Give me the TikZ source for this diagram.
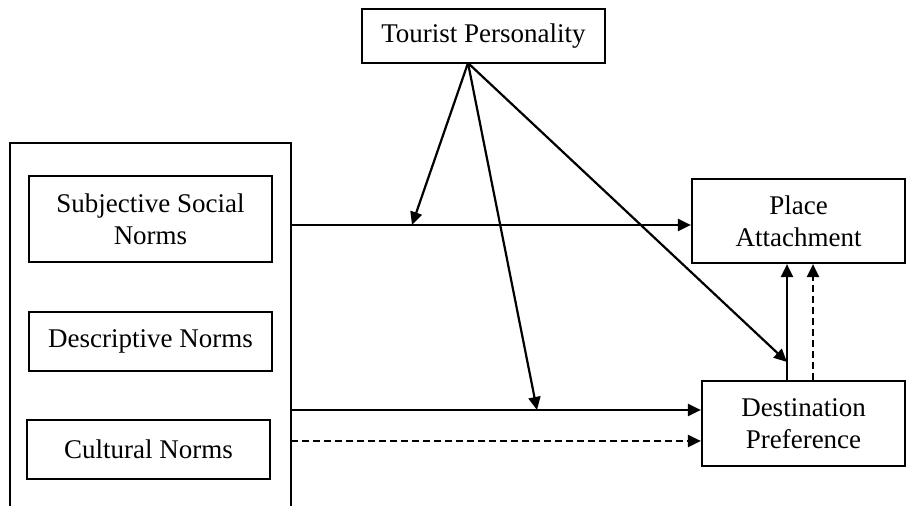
\documentclass[tikz,border=0pt]{standalone}
\usepackage{fontspec}
\setmainfont{Liberation Serif}
\usepackage{tikz}
\usetikzlibrary{arrows.meta, positioning}

\begin{document}
\begin{tikzpicture}[x=0.5pt, y=-0.5pt,
    box/.style={draw, line width=1.1pt, align=center, inner sep=0pt,
                font=\fontsize{13.5}{15.8}\selectfont},
    arr/.style={line width=1.1pt, -{Triangle[length=6.5pt, width=6pt]}},
    dashline/.style={dash pattern=on 3.5pt off 2pt}]
    \useasboundingbox (0,0) rectangle (906,506);
    % open-bottom frame round the three norms
    \draw[line width=1.1pt] (10,506) |- (291,143) -- (291,506);
    \node (ssn) at (150.5,219) [box, minimum width=121.5pt, minimum height=43pt] {Subjective Social\\Norms};
    \node (dn) at (150.5,341.5) [box, minimum width=121.5pt, minimum height=29.5pt] {Descriptive Norms};
    \node (cn) at (148.5,449.5) [box, minimum width=121.5pt, minimum height=29.5pt] {Cultural Norms};
    \node (tp) at (483.5,36) [box, minimum width=121.5pt, minimum height=27pt] {Tourist Personality};
    \node (pa) at (798.5,221) [box, minimum width=106.5pt, minimum height=42pt] {Place\\Attachment};
    \node (dp) at (803.5,423.5) [box, minimum width=101.5pt, minimum height=42.5pt] {Destination\\Preference};

    \coordinate (tpb) at (468,63);
    \coordinate (o1) at (291,225);
    \coordinate (o2) at (291,410);
    \coordinate (o3) at (291,441);
    \coordinate (m1) at (412,225);
    \coordinate (m2) at (537,410);
    \coordinate (m3) at (787,362);
    \coordinate (d3) at (813,362);

    \draw[arr] (o1) -- (o1 -| pa.west);
    \draw[arr] (o2) -- (o2 -| dp.west);
    \draw[arr, dashline] (o3) -- (o3 -| dp.west);
    \draw[arr] (tpb) -- (m1);
    \draw[arr] (tpb) -- (m2);
    \draw[arr] (tpb) -- (m3);
    \draw[arr] (dp.north -| m3) -- (pa.south -| m3);
    \draw[arr, dashline] (dp.north -| d3) -- (pa.south -| d3);
\end{tikzpicture}
\end{document}
